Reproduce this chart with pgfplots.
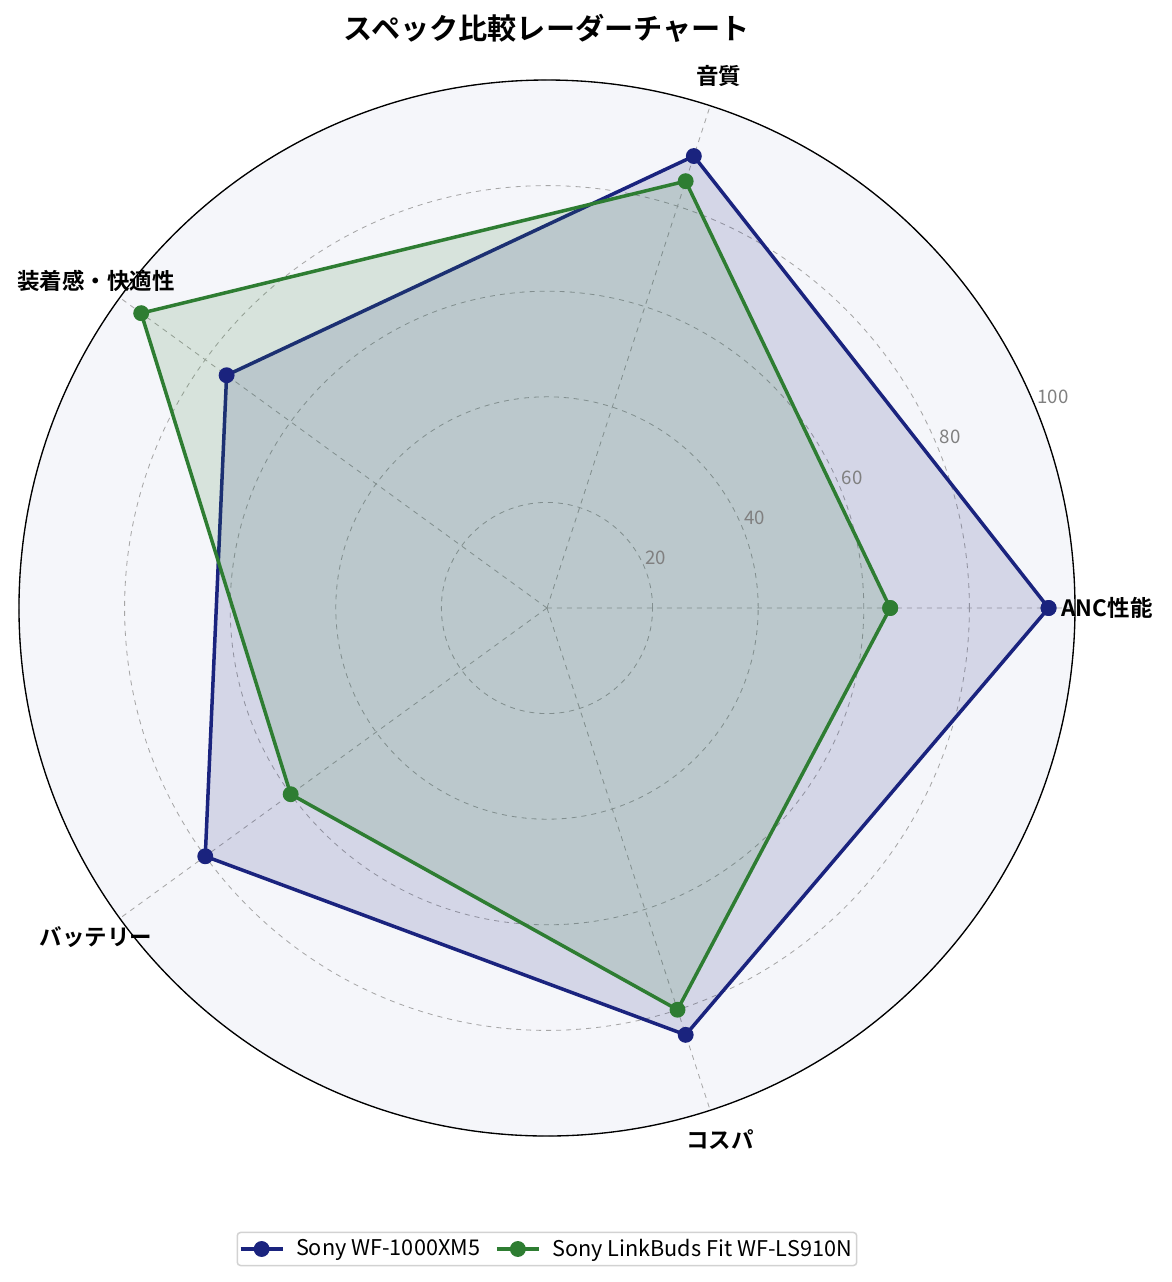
\documentclass[border=0pt]{standalone}
\usepackage{fontspec}
\setmainfont{Noto Sans CJK JP}[BoldFont={Noto Sans CJK JP Bold}]
\usepackage{pgfplots}
\pgfplotsset{compat=1.18}
\usepgfplotslibrary{polar}

\definecolor{navyline}{HTML}{1A237E}
\definecolor{greenline}{HTML}{2E7D32}
\definecolor{polarbg}{HTML}{F5F6FA}

% 1px of the reference = 0.6pt; the polar centre sits at (0,0)
\begin{document}
\begin{tikzpicture}
  \path[use as bounding box] (-328.2pt,-404.4pt) rectangle (375pt,364.8pt);

  \begin{polaraxis}[
      at={(0,0)}, anchor=center,
      scale only axis,
      width=633.6pt, height=633.6pt,
      ymin=0, ymax=100,
      xtick={0,72,144,216,288},
      xticklabels={},
      ytick={20,40,60,80,100},
      yticklabels={},
      grid=both,
      major grid style={gray!70, dashed, line width=0.5pt},
      x axis line style={black, line width=0.8pt},
      y axis line style={draw=none},
      axis background/.style={fill=polarbg},
      tick style={draw=none},
      legend columns=2,
      legend style={
        at={(0.5,-0.107)}, anchor=center,
        draw=gray!35, rounded corners=2pt, line width=0.9pt,
        font=\fontsize{13pt}{15pt}\selectfont,
        /tikz/every odd column/.append style={column sep=5pt},
        /tikz/every even column/.append style={column sep=7pt},
        inner xsep=1pt, inner ysep=2pt,
      },
      legend cell align=left,
      legend image code/.code={
        \draw[mark repeat=2, mark phase=2]
          plot coordinates {(0pt,0pt) (12.6pt,0pt) (25.2pt,0pt)};
      },
    ]

    \addplot[navyline, line width=2.1pt, fill=navyline, fill opacity=0.15,
             mark=*, mark size=3.7pt, mark options={fill=navyline, fill opacity=1}]
      coordinates {(0,95) (72,90) (144,75) (216,80) (288,85) (360,95)};
    \addlegendentry{Sony WF-1000XM5}

    \addplot[greenline, line width=2.1pt, fill=greenline, fill opacity=0.15,
             mark=*, mark size=3.7pt, mark options={fill=greenline, fill opacity=1}]
      coordinates {(0,65) (72,85) (144,95) (216,60) (288,80) (360,65)};
    \addlegendentry{Sony LinkBuds Fit WF-LS910N}
  \end{polaraxis}

  % title
  \node[font=\fontsize{17.5pt}{20pt}\selectfont\bfseries] at (0pt,348pt) {スペック比較レーダーチャート};

  % category labels
  \begin{scope}[every node/.style={font=\fontsize{13.5pt}{16pt}\selectfont\bfseries}]
    \node at (336pt,0pt) {ANC性能};
    \node at (103.2pt,319.2pt) {音質};
    \node at (-270.6pt,196.2pt) {装着感・快適性};
    \node at (-270.6pt,-197.4pt) {バッテリー};
    \node at (103.8pt,-319.2pt) {コスパ};
  \end{scope}

  % radial tick labels
  \begin{scope}[every node/.style={font=\fontsize{11.2pt}{13pt}\selectfont, text=gray}]
    \node at (65.4pt,30pt) {20};
    \node at (124.8pt,54pt) {40};
    \node at (183pt,78pt) {60};
    \node at (241.8pt,102.6pt) {80};
    \node at (303.6pt,126.6pt) {100};
  \end{scope}
\end{tikzpicture}
\end{document}
